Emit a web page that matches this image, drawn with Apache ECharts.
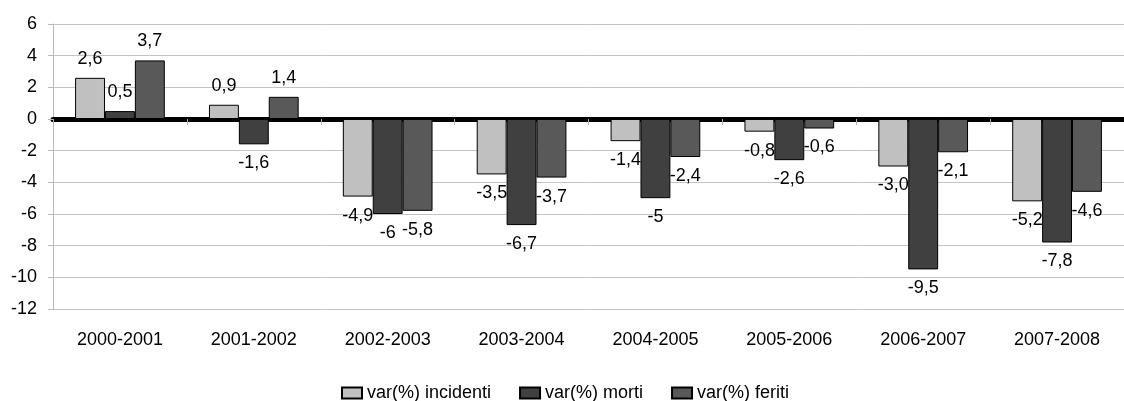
<!DOCTYPE html>
<html>
<head>
<meta charset="utf-8">
<script src="https://cdn.jsdelivr.net/npm/echarts@6/dist/echarts.min.js"></script>
<style>
  html, body { margin: 0; padding: 0; background: #fff; }
  #chart { width: 1124px; height: 401px; }
</style>
</head>
<body>
<div id="chart"></div>
<script>
const categories = ['2000-2001', '2001-2002', '2002-2003', '2003-2004', '2004-2005', '2005-2006', '2006-2007', '2007-2008'];
const seriesNames = ['var(%) incidenti', 'var(%) morti', 'var(%) feriti'];
const incidenti = [2.6, 0.9, -4.9, -3.5, -1.4, -0.8, -3.0, -5.2];
const morti = [0.5, -1.6, -6, -6.7, -5, -2.6, -9.5, -7.8];
const feriti = [3.7, 1.4, -5.8, -3.7, -2.4, -0.6, -2.1, -4.6];
// labels as printed on the chart (decimal comma)
const incidentiLabels = ['2,6', '0,9', '-4,9', '-3,5', '-1,4', '-0,8', '-3,0', '-5,2'];
const mortiLabels = ['0,5', '-1,6', '-6', '-6,7', '-5', '-2,6', '-9,5', '-7,8'];
const feritiLabels = ['3,7', '1,4', '-5,8', '-3,7', '-2,4', '-0,6', '-2,1', '-4,6'];

const colors = ['#c0c0c0', '#404040', '#595959'];
const font = 'Liberation Sans, Arial, sans-serif';

const makeData = (values, labels) => values.map((v, i) => ({
  value: v,
  label: { position: v >= 0 ? 'top' : 'bottom', formatter: labels[i] }
}));

const makeSeries = (idx, values, labels) => ({
  name: seriesNames[idx],
  type: 'bar',
  xAxisIndex: 0,
  barGap: '0%',
  barCategoryGap: '33%',
  data: makeData(values, labels),
  itemStyle: { color: colors[idx], borderColor: '#000', borderWidth: 1 },
  label: { show: true, distance: 10, color: '#000', fontSize: 18, fontFamily: font },
  emphasis: { disabled: true }
});

const chart = echarts.init(document.getElementById('chart'));
chart.setOption({
  animation: false,
  backgroundColor: '#fff',
  textStyle: { fontFamily: font },
  grid: { left: 53, top: 24, width: 1080, height: 285 },
  legend: {
    left: 336,
    top: 379,
    itemGap: 28,
    itemWidth: 20,
    itemHeight: 11,
    icon: 'rect',
    textStyle: { fontSize: 18, color: '#000', fontFamily: font },
    data: seriesNames
  },
  xAxis: [
    {
      type: 'category',
      data: categories,
      position: 'bottom',
      axisLine: { show: false, onZero: false },
      axisTick: { show: false },
      axisLabel: { color: '#000', fontSize: 18, fontFamily: font, margin: 22 }
    },
    {
      type: 'category',
      data: categories,
      position: 'bottom',
      axisLine: { show: true, onZero: true, onZeroAxisIndex: 0, lineStyle: { color: '#000', width: 5 } },
      axisTick: { show: true, length: 6, lineStyle: { color: '#b0b0b0' } },
      axisLabel: { show: false }
    }
  ],
  yAxis: {
    type: 'value',
    min: -12,
    max: 6,
    interval: 2,
    axisLine: { show: true, lineStyle: { color: '#b8b8b8' } },
    axisTick: { show: true, length: 5, lineStyle: { color: '#b8b8b8' } },
    axisLabel: { color: '#000', fontSize: 18, fontFamily: font, margin: 16 },
    splitLine: { show: true, lineStyle: { color: '#c4c4c4', width: 1 } }
  },
  series: [
    makeSeries(0, incidenti, incidentiLabels),
    makeSeries(1, morti, mortiLabels),
    makeSeries(2, feriti, feritiLabels)
  ]
});
</script>
</body>
</html>
